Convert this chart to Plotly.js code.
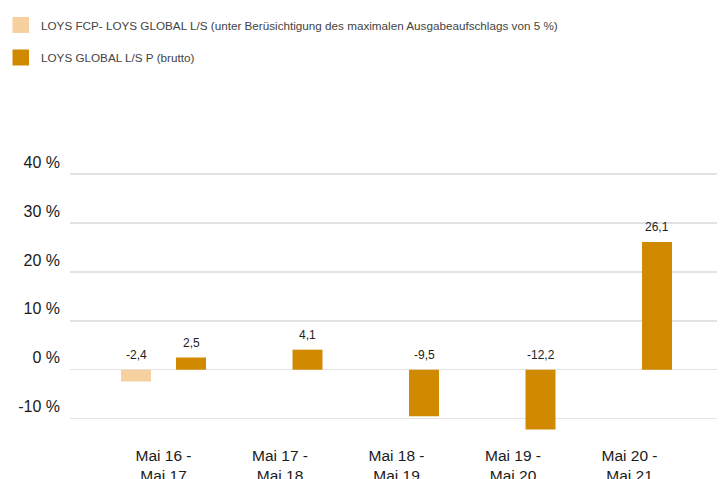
<!DOCTYPE html>
<html>
<head>
<meta charset="utf-8">
<script src="https://cdn.plot.ly/plotly-3.0.1.min.js"></script>
<style>
html,body{margin:0;padding:0;background:#fff;}
#chart{width:721px;height:479px;}
</style>
</head>
<body>
<div id="chart"></div>
<script>
// ---- data ----
var categories = ["Mai 16 -<br>Mai 17", "Mai 17 -<br>Mai 18", "Mai 18 -<br>Mai 19", "Mai 19 -<br>Mai 20", "Mai 20 -<br>Mai 21"];
var seriesNames = [
  "LOYS FCP- LOYS GLOBAL L/S (unter Berüsichtigung des maximalen Ausgabeaufschlags von 5 %)",
  "LOYS GLOBAL L/S P (brutto)"
];
var fcpValues = [-2.4, null, null, null, null];
var bruttoValues = [2.5, 4.1, -9.5, -12.2, 26.1];
var yTickValues = [-10, 0, 10, 20, 30, 40];
var yTickLabels = ["-10 %", "0 %", "10 %", "20 %", "30 %", "40 %"];

// ---- styles ----
var colors = ["#F6D09E", "#D18900"];
var FONT = "Liberation Sans, Arial, Helvetica, sans-serif";
var W = 721, H = 479;
var M = {l: 70, r: 4, t: 164, b: 46};
var plotW = W - M.l - M.r, plotH = H - M.t - M.b;
function px2x(px){ return (px - M.l) / plotW; }
function py2y(py){ return (H - M.b - py) / plotH; }

var allSeries = [fcpValues, bruttoValues];
var traces = allSeries.map(function(vals, i){
  return {
    type: "bar",
    x: categories,
    y: vals,
    name: seriesNames[i],
    marker: {color: colors[i]},
    showlegend: false,
    hoverinfo: "skip"
  };
});

var annotations = [];
var offsets = [-27.5, 27.5];
allSeries.forEach(function(vals, i){
  vals.forEach(function(v, j){
    if (v === null) return;
    annotations.push({
      x: categories[j], y: Math.max(v, 0), xref: "x", yref: "y",
      xshift: offsets[i], yshift: 15,
      xanchor: "center", yanchor: "middle",
      text: v.toFixed(1).replace(".", ","),
      showarrow: false,
      font: {family: FONT, size: 12, color: "#222"}
    });
  });
});

// custom legend
var shapes = [];
var legendY = [25, 57.5];
seriesNames.forEach(function(name, i){
  shapes.push({
    type: "rect", xref: "paper", yref: "paper",
    x0: px2x(12.5), x1: px2x(29), y0: py2y(legendY[i] - 8), y1: py2y(legendY[i] + 8),
    fillcolor: colors[i], line: {width: 0}
  });
  annotations.push({
    xref: "paper", yref: "paper", x: px2x(39), y: py2y(legendY[i]),
    xanchor: "left", yanchor: "middle", showarrow: false,
    text: name, font: {family: FONT, size: 11.7, color: "#444"}
  });
});

var layout = {
  width: W, height: H,
  margin: M,
  paper_bgcolor: "#fff", plot_bgcolor: "#fff",
  barmode: "group",
  bargap: 0.056,
  bargroupgap: 0.455,
  separators: ",.",
  font: {family: FONT, color: "#1a1a1a"},
  xaxis: {
    type: "category",
    range: [-0.8026, 4.751],
    showgrid: false, zeroline: false, showline: false,
    ticks: "",
    ticklabelstandoff: 11,
    tickfont: {family: FONT, size: 15.5, color: "#1a1a1a"},
    fixedrange: true
  },
  yaxis: {
    range: [-12.94, 42.07],
    tickvals: yTickValues,
    ticktext: yTickLabels,
    showgrid: true, gridcolor: "#e3e3e3", gridwidth: 1.5,
    zeroline: false, showline: false,
    ticks: "",
    ticklabelshift: -12,
    ticklabelstandoff: 9,
    tickfont: {family: FONT, size: 16, color: "#1a1a1a"},
    fixedrange: true
  },
  annotations: annotations,
  shapes: shapes
};

Plotly.newPlot("chart", traces, layout, {displayModeBar: false, staticPlot: true});
</script>
</body>
</html>
